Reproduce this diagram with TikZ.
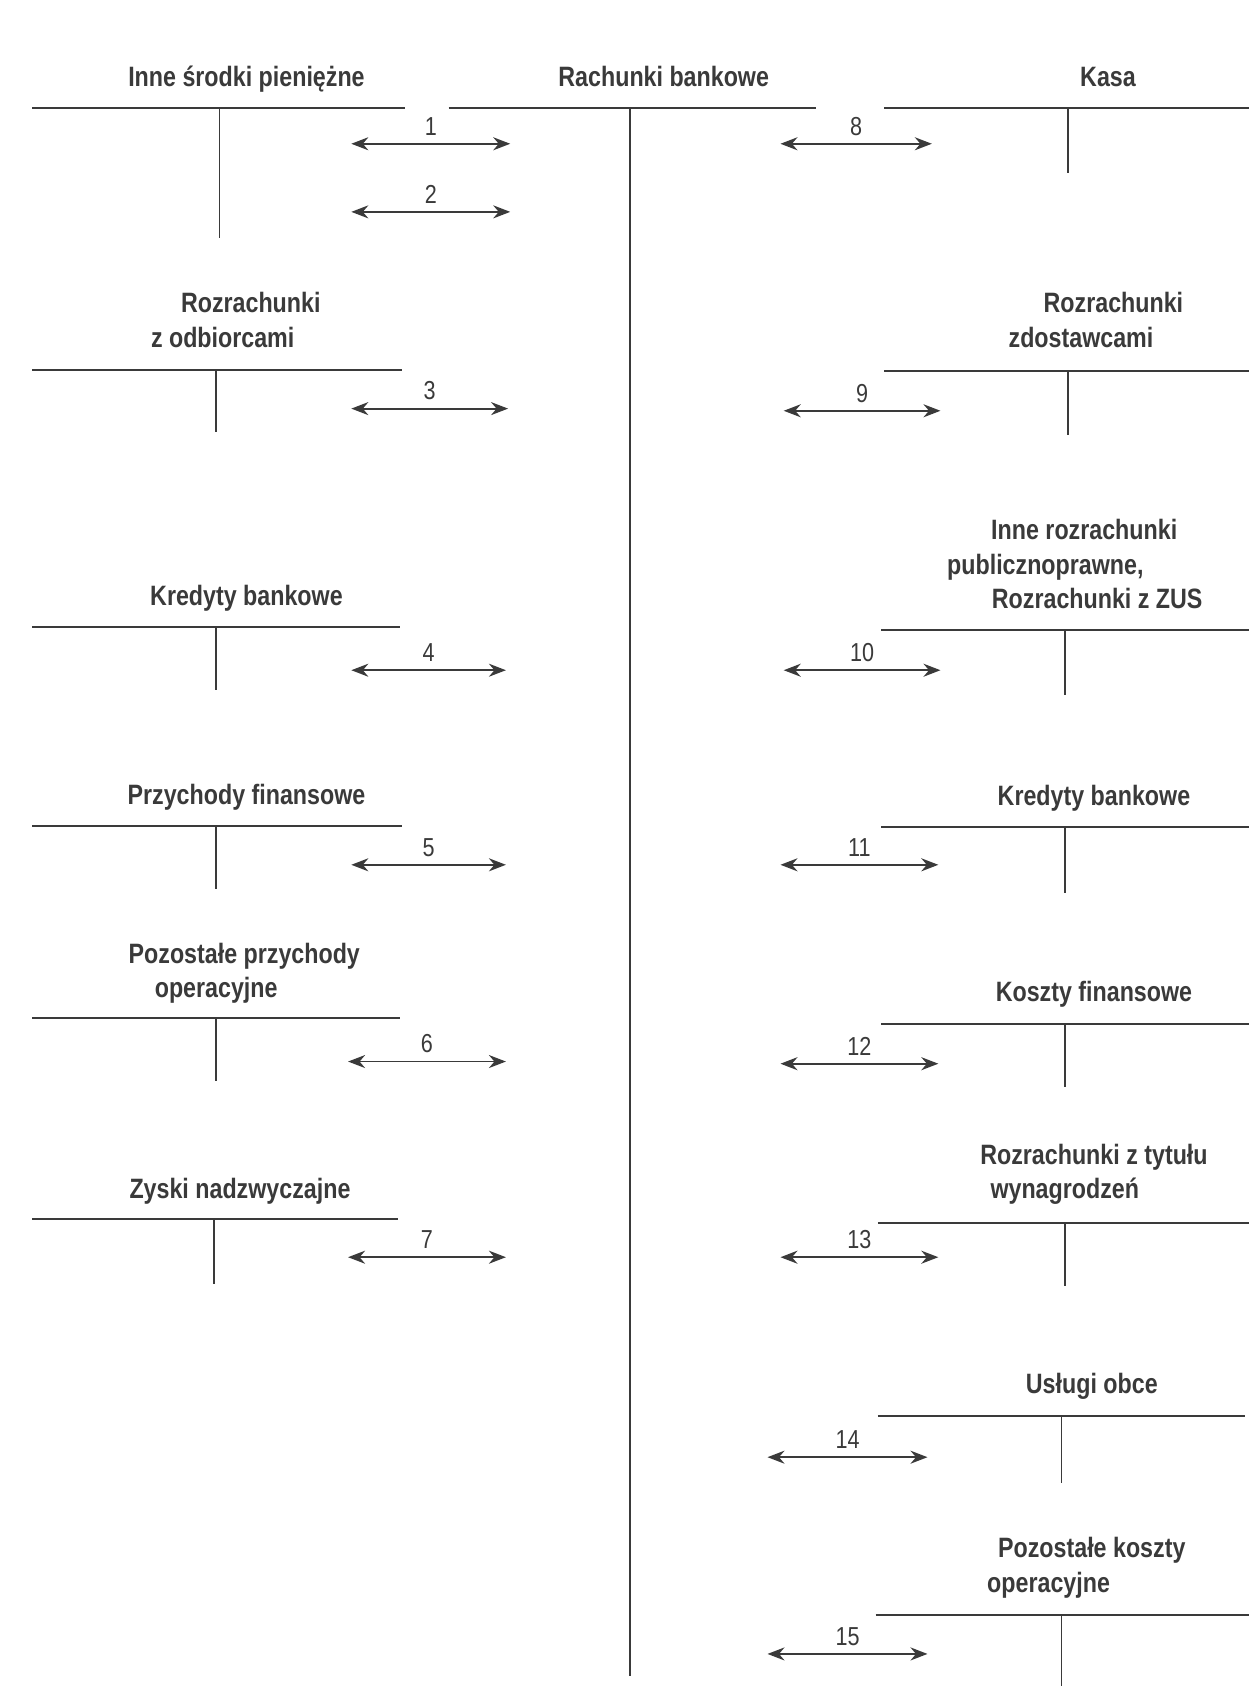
\documentclass[tikz,border=0pt]{standalone}
\usepackage{fontspec}
\setmainfont{Liberation Sans}[FakeStretch=0.83]
\usepackage{tikz}
\usetikzlibrary{arrows.meta, calc}

\definecolor{ink}{HTML}{3A3A3A}

\tikzset{
	konto/.style={draw=ink, line width=1.8pt},
	tytul/.style={font=\fontsize{28}{30}\selectfont\bfseries, text=ink, inner sep=0pt, anchor=base},
	nr/.style={font=\fontsize{26}{28}\selectfont, text=ink, inner sep=0pt, anchor=base},
	obrot/.style={draw=ink, line width=1.8pt, {Stealth[length=17pt,width=13pt]}-{Stealth[length=17pt,width=13pt]}}
}

\begin{document}
\begin{tikzpicture}[x=1.0807pt, y=-1.0807pt]

\useasboundingbox[fill=white] (0,0) rectangle (1165,1568);

% konta: nazwa / lewy brzeg / prawy brzeg / poziom / trzon / dol trzonu
\foreach \n/\xl/\xr/\y/\xs/\yb in {
	isp/30/375/100/203/220,
	rb/415/755/100/583/1550,
	kasa/818/1155/100/988/160,
	rzo/30/372/342/200/400,
	rzd/818/1155/343/988/402,
	irp/815/1155/583/985/643,
	kbl/30/370/580/200/638,
	pf/30/372/764/200/822,
	kbp/815/1155/765/985/826,
	ppo/30/370/942/200/1000,
	kf/815/1155/947/985/1006,
	zn/30/368/1128/198/1188,
	rtw/812/1155/1131/985/1190,
	uo/812/1152/1310/982/1372,
	pko/810/1155/1494/982/1560}{
	\coordinate (\n-l) at (\xl,\y);
	\coordinate (\n-r) at (\xr,\y);
	\coordinate (\n-t) at (\xs,\y);
	\coordinate (\n-b) at (\xs,\yb);
	\draw[konto] (\n-l) -- (\n-r);
	\draw[konto] (\n-t) -- (\n-b);
}

% nazwy kont
\node[tytul] (isp-name) at (228,80) {Inne środki pieniężne};
\node[tytul] (rb-name) at (614,80) {Rachunki bankowe};
\node[tytul] (kasa-name) at (1025,80) {Kasa};
\node[tytul] (rzo-name1) at (232,289) {Rozrachunki};
\node[tytul] (rzo-name2) at (206,321) {z odbiorcami};
\node[tytul] (rzd-name1) at (1030,289) {Rozrachunki};
\node[tytul] (rzd-name2) at (1000,321) {zdostawcami};
\node[tytul] (irp-name1) at (1003,499) {Inne rozrachunki};
\node[tytul] (irp-name2) at (967,531) {publicznoprawne,};
\node[tytul] (irp-name3) at (1015,563) {Rozrachunki z ZUS};
\node[tytul] (kbl-name) at (228,560) {Kredyty bankowe};
\node[tytul] (pf-name) at (228,744) {Przychody finansowe};
\node[tytul] (kbp-name) at (1012,745) {Kredyty bankowe};
\node[tytul] (ppo-name1) at (226,891) {Pozostałe przychody};
\node[tytul] (ppo-name2) at (200,923) {operacyjne};
\node[tytul] (kf-name) at (1012,926) {Koszty finansowe};
\node[tytul] (zn-name) at (222,1109) {Zyski nadzwyczajne};
\node[tytul] (rtw-name1) at (1012,1077) {Rozrachunki z tytułu};
\node[tytul] (rtw-name2) at (985,1109) {wynagrodzeń};
\node[tytul] (uo-name) at (1010,1289) {Usługi obce};
\node[tytul] (pko-name1) at (1010,1441) {Pozostałe koszty};
\node[tytul] (pko-name2) at (970,1473) {operacyjne};

% operacje
\foreach \k/\xa/\xb/\y in {
	1/325/472/133, 2/325/472/196, 3/325/470/378, 4/325/468/620,
	5/325/468/800, 6/322/468/982, 7/322/468/1163,
	8/722/862/133, 9/725/870/380, 10/725/870/620, 11/722/868/800,
	12/722/868/984, 13/722/868/1163, 14/710/858/1348, 15/710/858/1530}{
	\coordinate (op\k-a) at (\xa,\y);
	\coordinate (op\k-b) at (\xb,\y);
	\draw[obrot] (op\k-a) -- (op\k-b);
	\node[nr] (op\k) at ($(op\k-a)!0.5!(op\k-b)+(0,-8)$) {\k};
}

\end{tikzpicture}
\end{document}
